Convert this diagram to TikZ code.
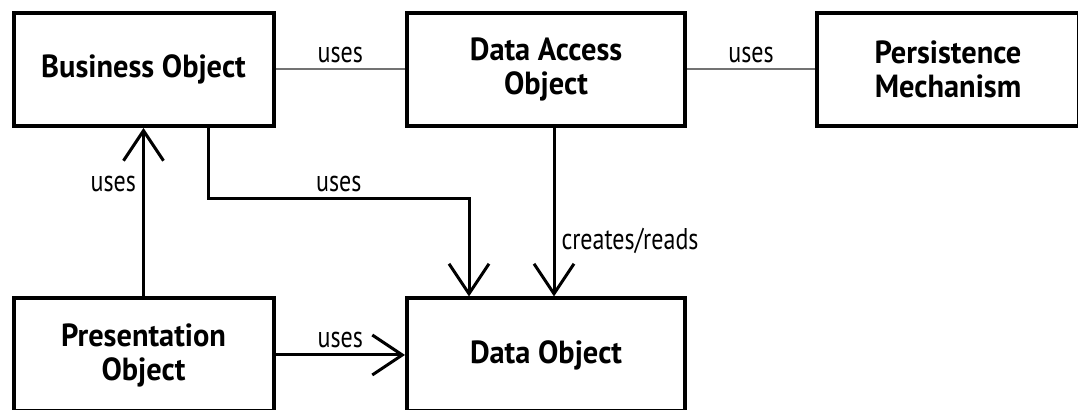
\documentclass[tikz,border=0pt]{standalone}
\usepackage{fontspec}
\setmainfont{PT Sans}[FakeStretch=0.95]
\newfontfamily\lblfont{PT Sans}[FakeStretch=0.8]
\usetikzlibrary{arrows.meta}

\tikzset{
  box/.style={draw, line width=2pt, minimum width=130pt, minimum height=56.5pt, align=center, inner sep=0pt, font=\bfseries\fontsize{16}{17}\selectfont},
  link/.style={line width=1pt, draw=black!55},
  uses/.style={line width=1.5pt, -{Straight Barb[length=15pt,width=20pt]}},
  lbl/.style={inner sep=3pt, font=\lblfont\fontsize{15}{15}\selectfont},
}

\begin{document}
\begin{tikzpicture}[x=0.5pt, y=-0.5pt]

	\useasboundingbox (0,0) rectangle (1078,410);

	\node[box](business) at (143.5,69.5){Business Object};
	\node[box, minimum width=139pt](access) at (546,69.5){Data Access\\Object};
	\node[box, minimum width=131pt](persist) at (948,69.5){Persistence\\Mechanism};
	\node[box](present) at (143.5,355){Presentation\\Object};
	\node[box, minimum width=139pt](data) at (546,355){Data Object};

	\draw[link] (business) -- node[lbl, above]{uses} (access);
	\draw[link] (access) -- node[lbl, above]{uses} (persist);

	\draw[uses] (present) -- node[lbl, left, pos=0.67]{uses} (business);
	\draw[uses] ([xshift=32.5pt]business.south) -- ++(0,71) -| node[lbl, above, pos=0.25]{uses} ([xshift=-38.5pt]data.north);
	\draw[uses] ([xshift=4pt]access.south) -- node[lbl, right, pos=0.67]{creates/reads} ([xshift=4pt]data.north);
	\draw[uses] (present) -- node[lbl, above]{uses} (data);

\end{tikzpicture}
\end{document}
